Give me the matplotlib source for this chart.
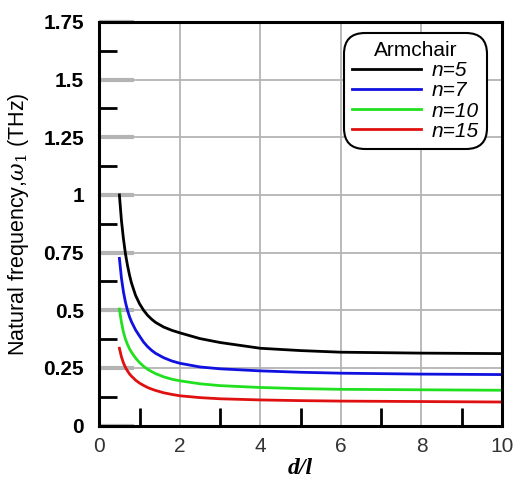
import matplotlib
matplotlib.use('Agg')
import matplotlib.pyplot as plt

plt.rcParams['font.family'] = ['Liberation Sans', 'DejaVu Sans']
plt.rcParams['mathtext.fontset'] = 'dejavuserif'

# d/l values
x = [0.5, 0.55, 0.6, 0.65, 0.7, 0.75, 0.8, 0.9, 1.0, 1.1, 1.2, 1.3, 1.4, 1.6, 1.8, 2.0, 2.5, 3, 4, 5, 6, 8, 10]

# natural frequency (THz) for each n
n5 = [1.0, 0.89, 0.81, 0.745, 0.695, 0.653, 0.618, 0.565, 0.528, 0.5, 0.478, 0.461, 0.447, 0.427, 0.413, 0.402,
      0.377, 0.36, 0.335, 0.325, 0.318, 0.314, 0.312]
n7 = [0.725, 0.64, 0.58, 0.535, 0.5, 0.472, 0.45, 0.415, 0.388, 0.362, 0.342, 0.326, 0.313, 0.294, 0.28, 0.27,
      0.254, 0.246, 0.237, 0.231, 0.227, 0.223, 0.221]
n10 = [0.505, 0.448, 0.405, 0.375, 0.352, 0.333, 0.318, 0.293, 0.273, 0.257, 0.244, 0.234, 0.225, 0.211, 0.201, 0.194,
       0.181, 0.173, 0.165, 0.16, 0.157, 0.155, 0.153]
n15 = [0.335, 0.298, 0.272, 0.252, 0.237, 0.224, 0.214, 0.197, 0.184, 0.174, 0.165, 0.158, 0.152, 0.142, 0.135, 0.129,
       0.121, 0.116, 0.111, 0.108, 0.106, 0.104, 0.102]

series = [n5, n7, n10, n15]
labels = ['n=5', 'n=7', 'n=10', 'n=15']
colors = ['#000000', '#1010e0', '#20e020', '#e01010']

xticks = [0, 2, 4, 6, 8, 10]
yticks = [0, 0.25, 0.5, 0.75, 1, 1.25, 1.5, 1.75]
yticklabels = ['0', '0.25', '0.5', '0.75', '1', '1.25', '1.5', '1.75']

fig = plt.figure(figsize=(5.17, 4.88), dpi=100)
ax = fig.add_axes([0.192, 0.128, 0.779, 0.827])

ax.grid(True, color='#b4b4b4', linewidth=1.3, zorder=0)
for ys, lab, c in zip(series, labels, colors):
    ax.plot(x, ys, color=c, linewidth=2, label=lab, zorder=3)

ax.set_xlim(0, 10)
ax.set_ylim(0, 1.75)
ax.set_xticks(xticks)
ax.set_xticklabels([str(t) for t in xticks], fontsize=15, color='#333333')
ax.set_yticks(yticks)
ax.set_yticklabels(yticklabels, fontsize=15, fontweight='bold')
ax.set_xticks([1, 3, 5, 7, 9], minor=True)
ax.set_yticks([0.125, 0.375, 0.625, 0.875, 1.125, 1.375, 1.625], minor=True)

ax.tick_params(axis='y', which='major', direction='in', length=25, width=3,
               color='#b4b4b4', pad=11)
ax.tick_params(axis='x', which='major', direction='in', length=0, pad=8)
ax.tick_params(which='minor', direction='in', length=13, width=2, color='black')

for sp in ax.spines.values():
    sp.set_linewidth(2.2)
    sp.set_zorder(5)

ax.set_xlabel('d/l', fontsize=17, fontweight='bold', style='italic',
              family='Liberation Serif', labelpad=2)
ax.set_ylabel(r'Natural frequency,$\omega_1$ (THz)', fontsize=15.5, labelpad=9)

leg = ax.legend(title='Armchair', loc='upper right', bbox_to_anchor=(0.978, 0.988),
                prop={'style': 'italic', 'size': 15}, title_fontsize=15,
                handlelength=3.3, handletextpad=0.5, labelspacing=0.05,
                borderpad=0.2, fancybox=True, framealpha=1, edgecolor='black')
leg.get_frame().set_linewidth(1.5)
leg.get_frame().set_boxstyle('round,pad=0.2,rounding_size=1.0')
for line in leg.get_lines():
    line.set_linewidth(2)

fig.savefig('out.png', dpi=100)
